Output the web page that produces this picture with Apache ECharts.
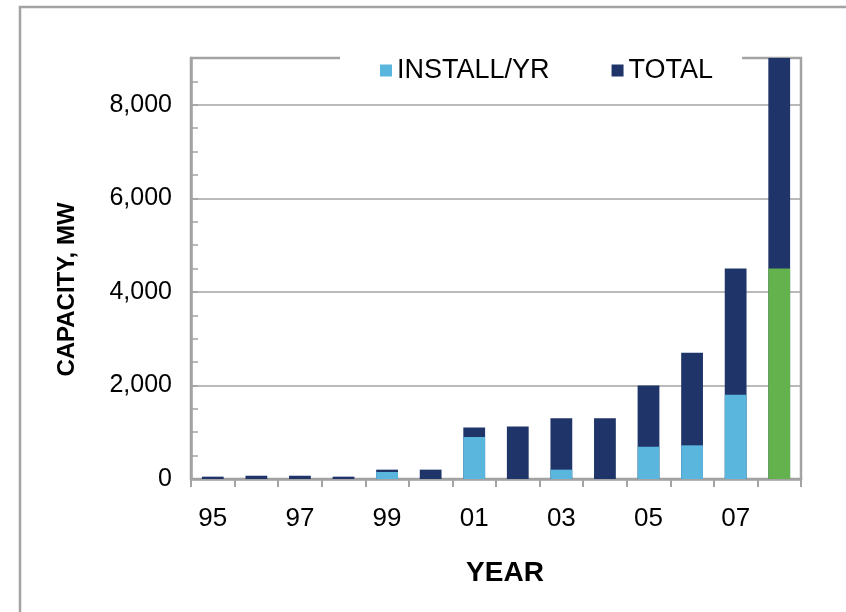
<!DOCTYPE html>
<html>
<head>
<meta charset="utf-8">
<script src="https://cdn.jsdelivr.net/npm/echarts@6/dist/echarts.min.js"></script>
<style>
  html, body { margin: 0; padding: 0; background: #fff; }
  #chart { width: 846px; height: 612px; }
</style>
</head>
<body>
<div id="chart"></div>
<script>
// Installed capacity per year and cumulative total, MW
const years = ['95', '96', '97', '98', '99', '00', '01', '02', '03', '04', '05', '06', '07', '08'];
const installPerYear = [0, 0, 0, 0, 150, 0, 900, 0, 200, 0, 690, 720, 1800, 4500];
const totalCapacity = [50, 70, 70, 50, 200, 200, 1100, 1120, 1300, 1300, 2000, 2700, 4500, 9000];
const highlightYear = '08';

const FONT = '"Liberation Sans", Arial, sans-serif';
const GRAY = '#a3a3a3';
const LIGHT_BLUE = '#5bb6de';
const NAVY = '#1f3468';
const GREEN = '#63b24d';

const chart = echarts.init(document.getElementById('chart'), null, { renderer: 'canvas' });

const installData = installPerYear.map((v, i) =>
  years[i] === highlightYear ? { value: v, itemStyle: { color: GREEN } } : v
);

chart.setOption({
  animation: false,
  backgroundColor: '#fff',
  textStyle: { fontFamily: FONT },
  graphic: [{
    type: 'rect',
    shape: { x: 20, y: 7, width: 900, height: 700 },
    style: { fill: 'none', stroke: GRAY, lineWidth: 2.5 },
    silent: true
  }],
  grid: {
    left: 191, right: 45, top: 58, bottom: 133,
    show: true, borderColor: GRAY, borderWidth: 2.5, backgroundColor: 'transparent'
  },
  legend: {
    data: ['INSTALL/YR', 'TOTAL'],
    left: 340, top: 54,
    padding: [3, 29, 3, 40],
    backgroundColor: '#fff',
    icon: 'rect',
    itemWidth: 12, itemHeight: 12,
    itemGap: 62,
    z: 10,
    textStyle: { fontFamily: FONT, fontSize: 27, color: '#000' }
  },
  xAxis: {
    type: 'category',
    data: years,
    boundaryGap: true,
    axisLine: { lineStyle: { color: GRAY, width: 2.5 } },
    axisTick: { show: true, interval: 0, length: 8, alignWithLabel: false, lineStyle: { color: GRAY, width: 2 } },
    axisLabel: { interval: 1, fontFamily: FONT, fontSize: 26, color: '#000', margin: 27 },
    name: 'YEAR',
    nameLocation: 'middle',
    nameGap: 80,
    nameTextStyle: {
      fontFamily: FONT, fontSize: 28, fontWeight: 'bold', color: '#000',
      padding: [0, 0, 0, 18]
    }
  },
  yAxis: [{
    type: 'value',
    min: 0, max: 9000, interval: 2000,
    position: 'left',
    axisLine: { show: true, lineStyle: { color: GRAY, width: 2.5 } },
    axisTick: { show: false },
    axisLabel: {
      fontFamily: FONT, fontSize: 25, color: '#000', margin: 19,
      showMaxLabel: false,
      formatter: v => (v % 2000 === 0 ? v.toLocaleString('en-US') : '')
    },
    splitLine: { show: true, lineStyle: { color: GRAY, width: 1.5 } },
    name: 'CAPACITY, MW',
    nameLocation: 'middle',
    nameRotate: 90,
    nameGap: 112,
    nameTextStyle: {
      fontFamily: FONT, fontSize: 24, fontWeight: 'bold', color: '#000',
      padding: [0, 42, 0, 0]
    }
  }, {
    type: 'value',
    min: 0, max: 9000, interval: 500,
    position: 'left',
    axisLine: { show: false },
    axisTick: { show: true, inside: true, length: 7, lineStyle: { color: GRAY, width: 1.5 } },
    axisLabel: { show: false },
    splitLine: { show: false }
  }],
  series: [{
    name: 'TOTAL',
    type: 'bar',
    yAxisIndex: 0,
    data: totalCapacity,
    barWidth: '50%',
    barGap: '-100%',
    itemStyle: { color: NAVY }
  }, {
    name: 'INSTALL/YR',
    type: 'bar',
    yAxisIndex: 0,
    data: installData,
    barWidth: '50%',
    barGap: '-100%',
    itemStyle: { color: LIGHT_BLUE }
  }]
});
</script>
</body>
</html>
